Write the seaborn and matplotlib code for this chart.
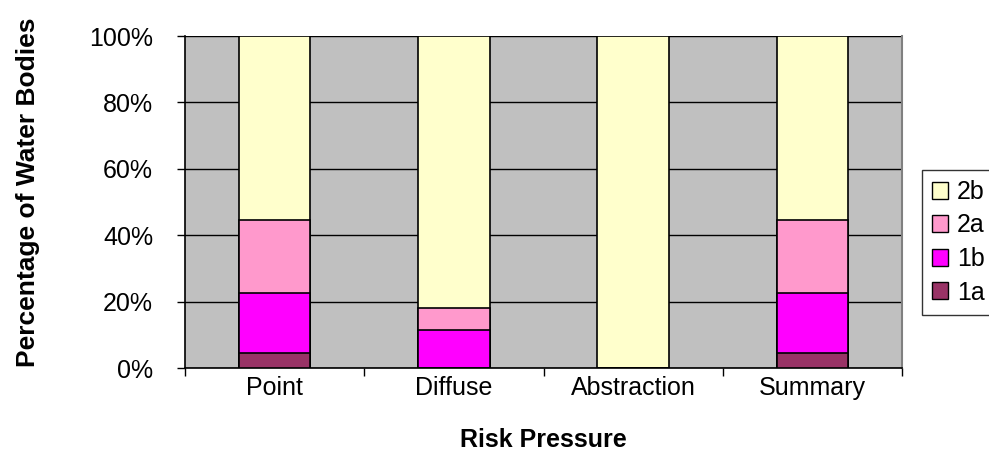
import matplotlib
matplotlib.use("Agg")
import matplotlib.pyplot as plt
import seaborn as sns
import pandas as pd
from matplotlib.patches import Patch

categories = ["Point", "Diffuse", "Abstraction", "Summary"]
series_names = ["1a", "1b", "2a", "2b"]
s1a = [4.5, 0.0, 0.0, 4.5]
s1b = [18.1, 11.3, 0.0, 18.1]
s2a = [22.1, 6.8, 0.0, 22.1]
s2b = [55.3, 81.9, 100.0, 55.3]
colors = {"1a": "#993366", "1b": "#FF00FF", "2a": "#FF99CC", "2b": "#FFFFCC"}
yticks = [0, 20, 40, 60, 80, 100]
ytick_labels = ["0%", "20%", "40%", "60%", "80%", "100%"]

FS = 18

sns.set_style("white")
plt.rcParams['font.family'] = ['Liberation Sans', 'DejaVu Sans']
plt.rcParams.update({"text.color": "black", "axes.labelcolor": "black",
                     "xtick.color": "black", "ytick.color": "black"})

df = pd.DataFrame({"Risk Pressure": categories, "1a": s1a, "1b": s1b, "2a": s2a, "2b": s2b})
# cumulative tops so the bars can be overlaid from the tallest down
df["top_1a"] = df["1a"]
df["top_1b"] = df["top_1a"] + df["1b"]
df["top_2a"] = df["top_1b"] + df["2a"]
df["top_2b"] = df["top_2a"] + df["2b"]

fig = plt.figure(figsize=(9.89, 4.70), dpi=100)
ax = fig.add_axes([185 / 989, 1 - 368 / 470, 717 / 989, 332 / 470])
ax.set_facecolor("#C0C0C0")

for name in ["2b", "2a", "1b", "1a"]:
    sns.barplot(data=df, x="Risk Pressure", y="top_" + name, color=colors[name],
                width=0.4, edgecolor="black", linewidth=1.2, saturation=1,
                ax=ax, zorder=3)

ax.set_xlim(-0.5, 3.5)
ax.set_ylim(0, 100)
ax.set_yticks(yticks)
ax.set_yticklabels(ytick_labels, fontsize=FS)
ax.yaxis.grid(True, color="black", linewidth=1.0, zorder=1)
ax.set_axisbelow(True)

ax.set_xticks(range(len(categories)))
ax.set_xticklabels(categories, fontsize=FS)
ax.set_xticks([-0.5, 0.5, 1.5, 2.5, 3.5], minor=True)
ax.tick_params(axis="x", which="major", length=0, pad=6)
ax.tick_params(axis="x", which="minor", length=6, width=1, color="black", direction="out", bottom=True)
ax.tick_params(axis="y", length=6, width=1, color="black", direction="out", left=True, pad=17)

for side in ["left", "bottom"]:
    ax.spines[side].set_color("black")
    ax.spines[side].set_linewidth(1.2)
ax.spines["top"].set_visible(False)
ax.spines["right"].set_color("#808080")
ax.spines["right"].set_linewidth(1.5)

ax.set_xlabel("Risk Pressure", fontsize=FS, fontweight="bold")
ax.xaxis.set_label_coords(0.5, (368 - 440) / 332)
ax.xaxis.label.set_va("center")
ax.set_ylabel("Percentage of Water Bodies", fontsize=19, fontweight="bold")
ax.yaxis.set_label_coords((28 - 185) / 717, 0.53)
ax.yaxis.label.set_va("center")

handles = [Patch(facecolor=colors[n], edgecolor="black", label=n) for n in ["2b", "2a", "1b", "1a"]]
leg = fig.legend(handles=handles, loc="upper left", bbox_to_anchor=(922 / 989, 1 - 170 / 470),
                 fontsize=FS, frameon=True, fancybox=False, edgecolor="black",
                 handlelength=0.65, handleheight=0.65, handletextpad=0.35,
                 labelspacing=0.38, borderpad=0.4, borderaxespad=0)
leg.get_frame().set_linewidth(1.0)

fig.savefig("out.png", dpi=100)
